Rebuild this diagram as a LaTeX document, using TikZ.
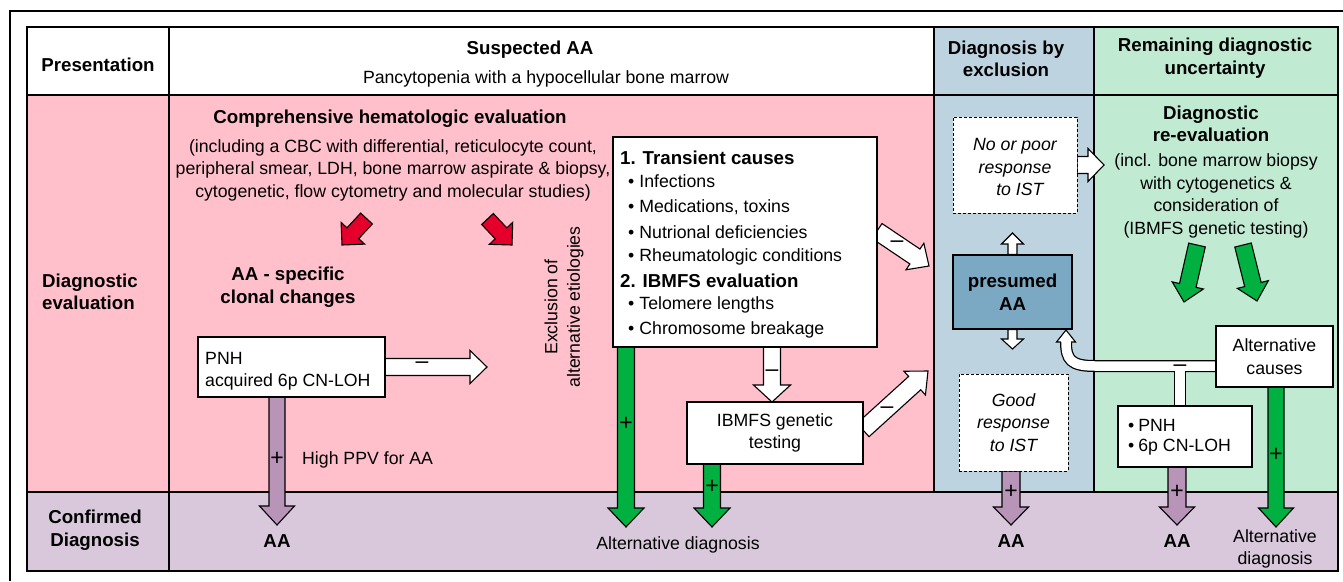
\documentclass[tikz,border=0pt]{standalone}
\usepackage{fontspec}
\setmainfont{Liberation Sans}
\usetikzlibrary{calc}
\definecolor{pinkc}{RGB}{255,192,203}
\definecolor{bluec}{RGB}{189,212,224}
\definecolor{greenc}{RGB}{192,234,210}
\definecolor{lavc}{RGB}{217,200,220}
\definecolor{presc}{RGB}{123,168,195}
\definecolor{purpc}{RGB}{184,148,184}
\definecolor{greenar}{RGB}{0,176,64}
\definecolor{redar}{RGB}{228,0,43}
\pgfdeclarelayer{bg}
\pgfdeclarelayer{arr}
\pgfsetlayers{bg,arr,main}
% block arrow: fill, from, to, shaft half width, head half width, head length
\newcommand\barrow[6]{%
 \coordinate (ba-H) at ($(#3)!#6!(#2)$);
 \draw[arrline,fill=#1] ($(#2)!#4!90:(#3)$) -- ($(ba-H)!#4!90:(#3)$) -- ($(ba-H)!#5!90:(#3)$) -- (#3) -- ($(ba-H)!#5!-90:(#3)$) -- ($(ba-H)!#4!-90:(#3)$) -- ($(#2)!#4!-90:(#3)$) -- cycle;}
\begin{document}
\begin{tikzpicture}[x=1pt,y=-1pt,
 rt/.style={font=\fontsize{17.7}{22.5}\selectfont, inner sep=0pt},
 bt/.style={font=\fontsize{18.7}{22.5}\selectfont\bfseries, inner sep=0pt},
 itx/.style={font=\fontsize{17.7}{22.5}\selectfont\itshape, inner sep=0pt},
 sg/.style={font=\fontsize{23}{24}\selectfont, inner sep=0pt},
 box/.style={draw=black, line width=2.2pt, fill=white, inner sep=0pt, outer sep=0pt},
 dbox/.style={draw=black, line width=0.8pt, dash pattern=on 3pt off 2pt, fill=white, inner sep=0pt, outer sep=0pt},
 grid/.style={line width=2pt},
 arrline/.style={draw=black, line width=1.1pt, line join=miter}]
\useasboundingbox (0,0) rectangle (1343,581);
\begin{pgfonlayer}{bg}
\fill[white] (0,0) rectangle (1343,581);
\draw[line width=2pt] (1343,11) -- (10,11) -- (10,581);
\fill[white] (27,27) rectangle (934,95);
\fill[bluec] (934,27) rectangle (1094,492);
\fill[greenc] (1094,27) rectangle (1338,492);
\fill[pinkc] (27,95) rectangle (934,492);
\fill[lavc] (27,492) rectangle (1338,571);
\draw[grid] (27,27) rectangle (1338,571);
\draw[grid] (27,95) -- (1338,95);
\draw[grid] (27,492) -- (1338,492);
\draw[grid] (169,27) -- (169,571);
\draw[grid] (934,27) -- (934,492);
\draw[grid] (1094,27) -- (1094,492);
\end{pgfonlayer}

% header texts
\node[bt] (presh) at (98,65) {Presentation};
\node[bt] (susp) at (530,50) {Suspected AA};
\node[rt] (panc) at (546,79) {Pancytopenia with a hypocellular bone marrow};
\node[bt,align=center] (dbe) at (1006,59) {Diagnosis by\\exclusion};
\node[bt,align=center] (rdu) at (1215,58) {Remaining diagnostic\\uncertainty};
\node[bt,align=left,anchor=west] (deval) at (42,292) {Diagnostic\\evaluation};
\node[bt,align=center] (conf) at (95,530) {Confirmed\\Diagnosis};

% pink column texts
\node[bt] (che) at (390,119) {Comprehensive hematologic evaluation};
\node[rt,align=center] (incl) at (393,170) {(including a CBC with differential, reticulocyte count,\\peripheral smear, LDH, bone marrow aspirate \& biopsy,\\cytogenetic, flow cytometry and molecular studies)};
\node[bt,align=center] (aas) at (288,287) {AA - specific\\clonal changes};
\node[rt,rotate=90,align=center] (excl) at (564,307) {Exclusion of\\alternative etiologies};

% boxes
\node[box, minimum width=187pt, minimum height=60pt] (pnh) at (291.5,367) {};
\node[rt,anchor=west] (pnh1) at (205,358) {PNH};
\node[rt,anchor=west] (pnh2) at (205,382) {acquired 6p CN-LOH};

\node[box, minimum width=264pt, minimum height=210pt] (big) at (745,242) {};
\node[bt,anchor=west] (b1) at (620,158) {1. Transient causes};
\node[rt,anchor=west] (b2) at (628,181) {•\hspace{5pt}Infections};
\node[rt,anchor=west] (b3) at (628,207) {•\hspace{5pt}Medications, toxins};
\node[rt,anchor=west] (b4) at (628,232) {•\hspace{5pt}Nutrional deficiencies};
\node[rt,anchor=west] (b5) at (628,257) {•\hspace{5pt}Rheumatologic conditions};
\node[bt,anchor=west] (b6) at (620,281) {2. IBMFS evaluation};
\node[rt,anchor=west] (b7) at (628,305) {•\hspace{5pt}Telomere lengths};
\node[rt,anchor=west] (b8) at (628,330) {•\hspace{5pt}Chromosome breakage};

\node[box, rt, align=center, minimum width=176pt, minimum height=62pt] (ibm) at (775,433) {IBMFS genetic\\testing};

% blue column
\node[dbox, minimum width=124pt, minimum height=96pt] (dsh1) at (1015,165) {};
\node[itx, align=center] (dsh1t) at (1015,167) {No or poor\\response\\\ \ to IST};
\node[draw=black, line width=1.2pt, fill=presc, bt, align=center, minimum width=119pt, minimum height=74pt, inner sep=0pt] (pres) at (1012.5,292) {presumed\\AA};
\node[dbox, itx, align=center, minimum width=109pt, minimum height=97pt] (dsh2) at (1013.5,422.5) {Good\\response\\to IST};

% green column
\node[bt,align=center] (dre) at (1211,124) {Diagnostic\\re-evaluation};
\node[rt,align=center] (drt) at (1216,196) {(incl. bone marrow biopsy\\with cytogenetics \&\\consideration of\\(IBMFS genetic testing)};
\node[box, rt, align=center, minimum width=117pt, minimum height=61pt] (alt) at (1274.5,356.5) {Alternative\\causes};
\node[box, minimum width=134pt, minimum height=61pt] (box2) at (1185,436.5) {};
\node[rt,anchor=west] (bx1) at (1128,425) {•\hspace{4pt}PNH};
\node[rt,anchor=west] (bx2) at (1128,447) {•\hspace{4pt}6p CN-LOH};

% bottom row texts
\node[bt] (aa1) at (277,541) {AA};
\node[rt] (altd) at (678,545) {Alternative diagnosis};
\node[bt] (aa2) at (1011,541) {AA};
\node[bt] (aa3) at (1177,541) {AA};
\node[rt,align=center] (altd2) at (1275,549) {Alternative\\diagnosis};
\node[rt,anchor=west] (ppv) at (302,460) {High PPV for AA};

% arrow end coordinates
\coordinate (sR1) at (366.5,218.5); \coordinate (tR1) at (342,245);
\coordinate (sR2) at (487.5,219); \coordinate (tR2) at (512,245);
\coordinate (tW1) at (487,367);
\coordinate (tAA1) at (277,525);
\coordinate (tG1) at (626,527);
\coordinate (tW2) at ($(ibm.north)+(-3,0)$);
\coordinate (tG2) at (712,527);
\coordinate (sW3) at ($(big.east)+(0,-11)$); \coordinate (tW3) at (929,266);
\coordinate (sW4) at ($(ibm.east)+(0,-3)$); \coordinate (tW4) at (928,371);
\coordinate (tUp) at (1012.5,233); \coordinate (tDn) at (1012.5,349);
\coordinate (tW5) at (1104,165);
\coordinate (tP2) at (1011,525); \coordinate (tP3) at (1177,525); \coordinate (tG3) at (1276,527);
\coordinate (sG4) at (1197,245); \coordinate (tG4) at (1184,302);
\coordinate (sG5) at (1243,245); \coordinate (tG5) at (1257,301);
\coordinate (cvS) at ($(alt.west)+(-1,9.5)$);
\coordinate (cvA) at (1095,366);
\coordinate (cvC1) at (1071,366);
\coordinate (cvC2) at (1066,360);
\coordinate (cvE) at (1066,341.5);
\coordinate (brS) at ($(box2.north)+(-5,-1)$);
\coordinate (brE) at (1180,366);

\begin{pgfonlayer}{arr}
\barrow{redar}{sR1}{tR1}{8pt}{16pt}{16pt}
\barrow{redar}{sR2}{tR2}{8pt}{16pt}{16pt}
\barrow{white}{pnh.east}{tW1}{8.5pt}{16.5pt}{17pt}
\barrow{purpc}{pnh.south -| tAA1}{tAA1}{8pt}{17.5pt}{19pt}
\barrow{greenar}{big.south -| tG1}{tG1}{8.5pt}{18pt}{19pt}
\barrow{white}{big.south -| tW2}{tW2}{8.5pt}{18.5pt}{17pt}
\barrow{greenar}{ibm.south -| tG2}{tG2}{8.5pt}{18pt}{19pt}
\barrow{white}{sW3}{tW3}{9pt}{16pt}{17pt}
\barrow{white}{sW4}{tW4}{9pt}{16pt}{18pt}
\barrow{white}{pres.north}{tUp}{4.5pt}{11pt}{11pt}
\barrow{white}{pres.south}{tDn}{4.5pt}{11pt}{10pt}
\barrow{white}{dsh1.east}{tW5}{8.5pt}{16.5pt}{16pt}
\barrow{purpc}{dsh2.south -| tP2}{tP2}{9pt}{17.5pt}{18pt}
\barrow{purpc}{box2.south -| tP3}{tP3}{9pt}{17.5pt}{18pt}
\barrow{greenar}{alt.south -| tG3}{tG3}{8pt}{17.5pt}{19pt}
\barrow{greenar}{sG4}{tG4}{8.5pt}{16pt}{17pt}
\barrow{greenar}{sG5}{tG5}{8.5pt}{16pt}{17pt}
% curved white arrow with branch
\draw[line width=12pt, black] (cvS) -- (cvA) .. controls (cvC1) and (cvC2) .. (cvE);
\draw[line width=12pt, black] (brS) -- (brE);
\draw[line width=9.5pt, white] (cvS) -- (cvA) .. controls (cvC1) and (cvC2) .. (cvE);
\draw[line width=9.5pt, white] (brS) -- (brE);
\fill[white] (1056.5,342) -- (1066,330) -- (1075.5,342) -- cycle;
\draw[arrline] (1060.8,342) -- (1056.5,342) -- (1066,330) -- (1075.5,342) -- (1071.2,342);
\end{pgfonlayer}

% signs
\node[sg] (m1) at (422,365) {–};
\node[sg] (m2) at (772,373) {–};
\node[sg] (m3) at (897,244) {–};
\node[sg] (m4) at (887,410) {–};
\node[sg] (m5) at (1180,368) {–};
\node[sg] (p1) at (277,459) {+};
\node[sg] (p2) at (626,424) {+};
\node[sg] (p3) at (712,487) {+};
\node[sg] (p4) at (1011,492) {+};
\node[sg] (p5) at (1177,492) {+};
\node[sg] (p6) at (1276,455) {+};
\end{tikzpicture}
\end{document}
